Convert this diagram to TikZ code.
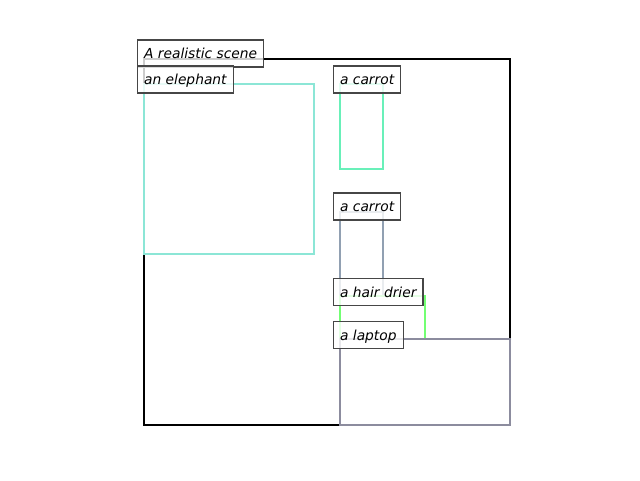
\documentclass[tikz,border=0pt]{standalone}
\usepackage{fontspec}
\setmainfont{DejaVu Sans}
\definecolor{scenec}{RGB}{0,0,0}
\definecolor{elephc}{RGB}{140,230,214}
\definecolor{carrotac}{RGB}{105,240,185}
\definecolor{carrotbc}{RGB}{145,160,178}
\definecolor{hairc}{RGB}{115,255,115}
\definecolor{laptopc}{RGB}{140,140,158}
\definecolor{labelc}{RGB}{70,70,70}
\tikzset{
  objbox/.style={line width=2.6pt, line join=miter},
  lbl/.style={anchor=west, draw=labelc, line width=1.2pt, fill=white, fill opacity=0.8, text opacity=1,
    inner xsep=6.5pt, inner ysep=0pt, minimum height=27pt, text height=12pt, text depth=2pt,
    font=\fontsize{13.8}{16}\selectfont\itshape}
}
\begin{document}
\begin{tikzpicture}[x=1pt,y=-1pt]
\useasboundingbox (0,0) rectangle (640,480);
\coordinate (s1) at (144,59);   \coordinate (s2) at (510,425);
\coordinate (e1) at (144,84);   \coordinate (e2) at (314,254);
\coordinate (c1) at (340,84);   \coordinate (c2) at (383,169);
\coordinate (d1) at (340,212);  \coordinate (d2) at (383,296);
\coordinate (h1) at (340,296);  \coordinate (h2) at (425,339);
\coordinate (l1) at (340,339);  \coordinate (l2) at (510,425);
\draw[objbox, draw=scenec] (s1) rectangle (s2);
\draw[objbox, draw=elephc] (e1) rectangle (e2);
\draw[objbox, draw=carrotac] (c1) rectangle (c2);
\draw[objbox, draw=carrotbc] (d1) rectangle (d2);
\draw[objbox, draw=hairc] (h1) rectangle (h2);
\draw[objbox, draw=laptopc] (l1) rectangle (l2);
\node[lbl] (ls) at (137,53.5) {A realistic scene};
\node[lbl] (le) at (137,79.5) {an elephant};
\node[lbl] (lc) at (333,79.5) {a carrot};
\node[lbl] (ld) at (333,206.5) {a carrot};
\node[lbl] (lh) at (333,292) {a hair drier};
\node[lbl] (ll) at (333,335) {a laptop};
\end{tikzpicture}
\end{document}
